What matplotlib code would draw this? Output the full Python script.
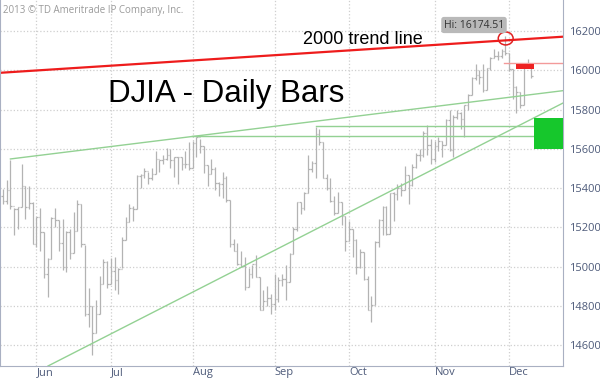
import numpy as np
import pandas as pd
import matplotlib
matplotlib.use("Agg")
import matplotlib.pyplot as plt
from matplotlib.patches import Ellipse, Rectangle

# trading days shown (NYSE holidays removed)
holidays = ['2013-05-27', '2013-07-04', '2013-09-02', '2013-11-28']
dates = pd.bdate_range('2013-05-20', '2013-12-10').drop(pd.to_datetime(holidays))

highs = [
    # May
    15395, 15440, 15542, 15300, 15303, 15520, 15409, 15410, 15330,
    # Jun
    15254, 15300, 15177, 15045, 15250, 15300, 15238, 15240, 15180, 15190,
    15280, 15340, 15320, 15112, 14890, 14800, 14830, 14950, 15040, 15030,
    # Jul
    15043, 15050, 14990, 15150, 15250, 15320, 15310, 15465, 15470, 15500, 15484,
    15500, 15590, 15545, 15570, 15604, 15600, 15560, 15560, 15560, 15590, 15635,
    # Aug
    15640, 15658, 15650, 15612, 15518, 15550, 15505, 15430, 15481, 15460, 15337,
    15140, 15120, 15080, 15050, 14990, 15010, 15060, 14946, 14880, 14900, 14860,
    # Sep
    14960, 14945, 14960, 15010, 15070, 15200, 15330, 15330, 15380, 15570,
    15540, 15709, 15700, 15636, 15470, 15450, 15360, 15380, 15328, 15258,
    # Oct
    15230, 15192, 15140, 15090, 15073, 14950, 14850, 15130, 15240, 15310, 15310, 15376,
    15380, 15420, 15425, 15510, 15468, 15520, 15580, 15600, 15690, 15720, 15650,
    # Nov
    15640, 15660, 15640, 15750, 15800, 15770, 15800, 15785, 15825, 15880,
    15965, 16030, 16000, 16030, 16010, 16070, 16110, 16100, 16110, 16174.51,
    # Dec
    16089, 16008, 15920, 15889, 16026, 16059, 16025,
]
lows = [
    15320, 15320, 15294, 15160, 15190, 15303, 15240, 15295, 15114,
    15100, 15080, 14940, 14844, 15040, 15200, 15080, 14980, 14970, 15040,
    15070, 15180, 15100, 14750, 14690, 14551, 14660, 14760, 14910, 14890,
    14910, 14880, 14860, 14990, 15135, 15225, 15230, 15292, 15400, 15450, 15420,
    15440, 15470, 15480, 15520, 15545, 15500, 15455, 15420, 15490, 15500, 15490,
    15500, 15560, 15580, 15476, 15412, 15470, 15390, 15360, 15350, 15330, 15100,
    15080, 15010, 14995, 14880, 14897, 14940, 14945, 14776, 14776, 14800, 14760,
    14780, 14820, 14900, 14830, 14922, 15063, 15180, 15270, 15290, 15376,
    15480, 15450, 15620, 15450, 15390, 15330, 15260, 15273, 15210, 15080,
    15130, 15050, 14960, 14990, 14930, 14776, 14719, 14803, 15100, 15160, 15160, 15168,
    15230, 15340, 15360, 15392, 15320, 15410, 15500, 15540, 15560, 15570, 15520,
    15530, 15590, 15560, 15618, 15590, 15560, 15750, 15700, 15660, 15800,
    15876, 15950, 15930, 15890, 15901, 16000, 16060, 16050, 16060, 16080,
    15997, 15853, 15784, 15809, 15821, 16020, 15960,
]
closes = [
    15335.28, 15387.58, 15307.17, 15294.50, 15303.10, 15409.39, 15302.80, 15324.53, 15115.57,
    15254.03, 15177.54, 14960.59, 15040.62, 15248.12, 15238.59, 15122.02, 14995.23, 15176.08, 15070.18,
    15179.85, 15318.23, 15112.19, 14758.32, 14799.40, 14659.56, 14760.31, 14910.14, 15024.49, 14909.60,
    14974.96, 14932.41, 14988.55, 15135.84, 15224.69, 15300.34, 15291.66, 15460.92, 15464.30, 15484.26, 15451.85,
    15470.52, 15548.54, 15543.74, 15545.55, 15567.74, 15542.24, 15555.61, 15558.83, 15521.97, 15520.59, 15499.54,
    15628.02, 15658.36, 15612.13, 15518.74, 15470.67, 15498.32, 15425.51, 15419.68, 15451.01, 15337.66, 15112.19,
    15081.47, 15010.74, 15002.99, 14897.55, 14963.74, 15010.51, 14946.46, 14776.13, 14824.51, 14840.95, 14810.31,
    14833.96, 14930.87, 14937.48, 14922.50, 15063.12, 15191.06, 15326.60, 15300.64, 15376.06, 15494.78,
    15529.73, 15676.94, 15636.55, 15451.09, 15401.38, 15334.59, 15273.26, 15328.30, 15258.24, 15129.67,
    15191.70, 15133.14, 14996.48, 15072.58, 14936.24, 14776.53, 14802.98, 15126.07, 15237.11, 15301.26, 15168.01, 15373.83,
    15371.65, 15399.65, 15392.20, 15467.66, 15413.33, 15509.21, 15570.28, 15568.93, 15680.35, 15618.76, 15545.75,
    15615.55, 15639.12, 15618.22, 15746.88, 15593.98, 15761.78, 15783.10, 15750.67, 15821.63, 15876.22,
    15961.70, 15976.02, 15967.03, 15900.82, 16009.99, 16064.77, 16072.54, 16072.80, 16097.33, 16086.41,
    16008.77, 15914.62, 15889.77, 15821.51, 16020.20, 16025.53, 15973.13,
]
# index opens at the previous close
opens = [15360] + closes[:-1]

month_labels = ['Jun', 'Jul', 'Aug', 'Sep', 'Oct', 'Nov', 'Dec']
y_ticks = [14600, 14800, 15000, 15200, 15400, 15600, 15800, 16000, 16200]

# drawn trend lines / zones (bar index, value); index 0 = 3 Jun 2013
red_line_x, red_line_y = [-9.8, 141.5], [15987, 16171]
upper_x, upper_y = [-7, 141.5], [15548, 15896]
lower_x, lower_y = [3.1, 141.5], [14493, 15833]
flat_levels = [15665, 15716]
flat_starts = [41.8, 75.1]
pink_level, pink_start = 16035, 125.7
red_zone = (128.9, 133.7, 16006, 16032)
green_zone = (133.7, 141.5, 15599, 15757)
hi_value = 16174.51

x = np.arange(len(dates)) - list(dates).index(pd.Timestamp('2013-06-03'))

fig = plt.figure(figsize=(6, 3.81), dpi=100)
ax = fig.add_axes([0, 15 / 381, 563 / 600, 366 / 381])

bar_col = '#b3b3b3'
ax.vlines(x, lows, highs, color=bar_col, lw=0.9)
ax.hlines(opens, x - 0.4, x, color=bar_col, lw=0.9)
ax.hlines(closes, x, x + 0.4, color=bar_col, lw=0.9)

g = '#93d193'
ax.plot(upper_x, upper_y, color=g, lw=1)
ax.plot(lower_x, lower_y, color=g, lw=1)
for lv, st in zip(flat_levels, flat_starts):
    ax.plot([st, 141.5], [lv, lv], color=g, lw=1)
ax.plot(red_line_x, red_line_y, color='#ee1c1c', lw=1.6)
ax.plot([pink_start, 141.5], [pink_level, pink_level], color='#f39a9a', lw=1)

ax.add_patch(Rectangle((red_zone[0], red_zone[2]), red_zone[1] - red_zone[0],
                       red_zone[3] - red_zone[2], color='#ee2222', lw=0, zorder=5))
ax.add_patch(Rectangle((green_zone[0], green_zone[2]), green_zone[1] - green_zone[0],
                       green_zone[3] - green_zone[2], color='#16c72c', lw=0, zorder=5))
ax.add_patch(Ellipse((126.1, 16162), 4.0, 66, fill=False, ec='#e02020', lw=1.1, zorder=6))

ax.set_xlim(-9.8, 141.5)
ax.set_ylim(14493, 16358)

month_pos = [x[np.argmax(dates.month == m)] for m in range(6, 13)]
ax.set_xticks(month_pos)
ax.set_xticklabels(month_labels, ha='left', fontfamily='Open Sans')
ax.set_yticks(y_ticks)
ax.set_yticklabels([str(v) for v in y_ticks], fontfamily='Open Sans')
ax.yaxis.tick_right()
ax.tick_params(length=0, labelsize=8, colors='#4e5b7a')
ax.tick_params(axis='x', pad=1)
ax.tick_params(axis='y', pad=4)
ax.grid(True, color='#cfcfcf', ls=':', lw=0.9)
ax.set_axisbelow(True)
ax.spines['top'].set_visible(False)
for s in ['right', 'bottom', 'left']:
    ax.spines[s].set_color('#a9b0c2')

def px(xp, yp):
    return xp / 600, 1 - yp / 381

fig.text(*px(3, 11), '2013 \u00a9 TD Ameritrade IP Company, Inc.', color='#9a9a9a',
         fontsize=7, fontfamily='Open Sans', va='center', ha='left')
fig.text(*px(108, 102), 'DJIA - Daily Bars', fontsize=22.5, fontfamily='Liberation Sans',
         va='baseline', ha='left')
fig.text(*px(303, 44), '2000 trend line', fontsize=13, fontfamily='Liberation Sans',
         va='baseline', ha='left')
fig.text(*px(474, 25), 'Hi: %.2f' % hi_value, fontsize=7.5, fontfamily='Open Sans',
         color='#333333', va='center', ha='center',
         bbox=dict(boxstyle='round,pad=0.25', fc='#b9b9b9', ec='none'))

fig.savefig('out.png', dpi=100)
